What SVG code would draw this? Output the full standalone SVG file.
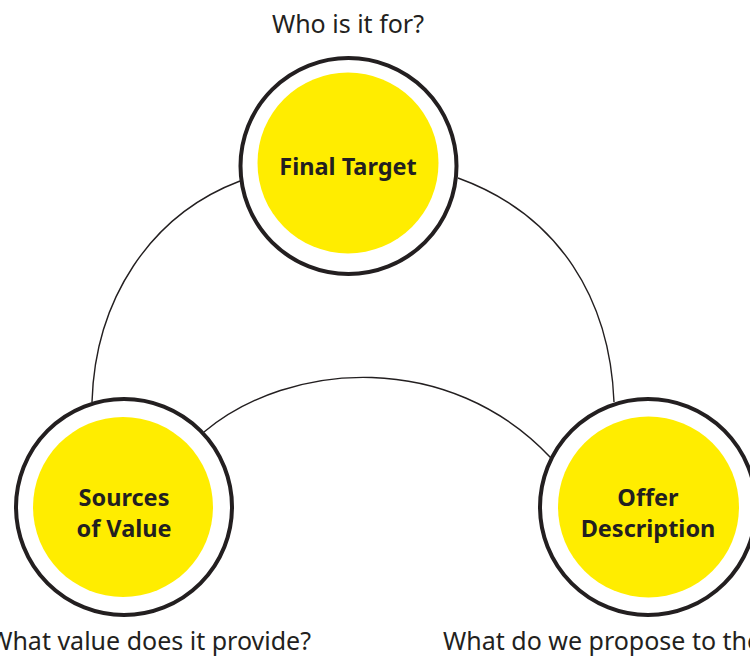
<svg xmlns="http://www.w3.org/2000/svg" width="750" height="657" viewBox="0 0 750 657">
<style>
.ring{fill:#fff;stroke:#231f20;stroke-width:4}
.core{fill:#ffed00}
.title{font-family:"Noto Sans",sans-serif;font-weight:bold;font-size:23.5px;fill:#231f20;text-anchor:middle}
.q{font-family:"Noto Sans",sans-serif;font-size:25px;fill:#231f20}
.conn{fill:none;stroke:#231f20;stroke-width:1.4}
</style>
<rect width="750" height="657" fill="#fff"/>
<g id="connectors">
<path class="conn" d="M240,181 C150,215 95,300 92,402"/>
<path class="conn" d="M458,178 C560,215 610,300 614,402"/>
<path class="conn" d="M204,432 C290,360 450,350 551,458"/>
</g>
<g id="final-target">
<circle class="ring" cx="348.5" cy="166" r="108"/>
<circle class="core" cx="348" cy="163" r="90.5"/>
<text class="title" x="348" y="175">Final Target</text>
<text class="q" x="348" y="33" text-anchor="middle">Who is it for?</text>
</g>
<g id="sources-of-value">
<circle class="ring" cx="124" cy="507" r="108"/>
<circle class="core" cx="123" cy="507" r="90"/>
<text class="title" x="124" y="506">Sources</text>
<text class="title" x="124" y="537">of Value</text>
<text class="q" x="311" y="650" text-anchor="end">What value does it provide?</text>
</g>
<g id="offer-description">
<circle class="ring" cx="648" cy="507" r="108"/>
<circle class="core" cx="648.5" cy="507" r="90.5"/>
<text class="title" x="648" y="506">Offer</text>
<text class="title" x="648" y="537">Description</text>
<text class="q" x="443" y="650">What do we propose to the</text>
</g>
</svg>
